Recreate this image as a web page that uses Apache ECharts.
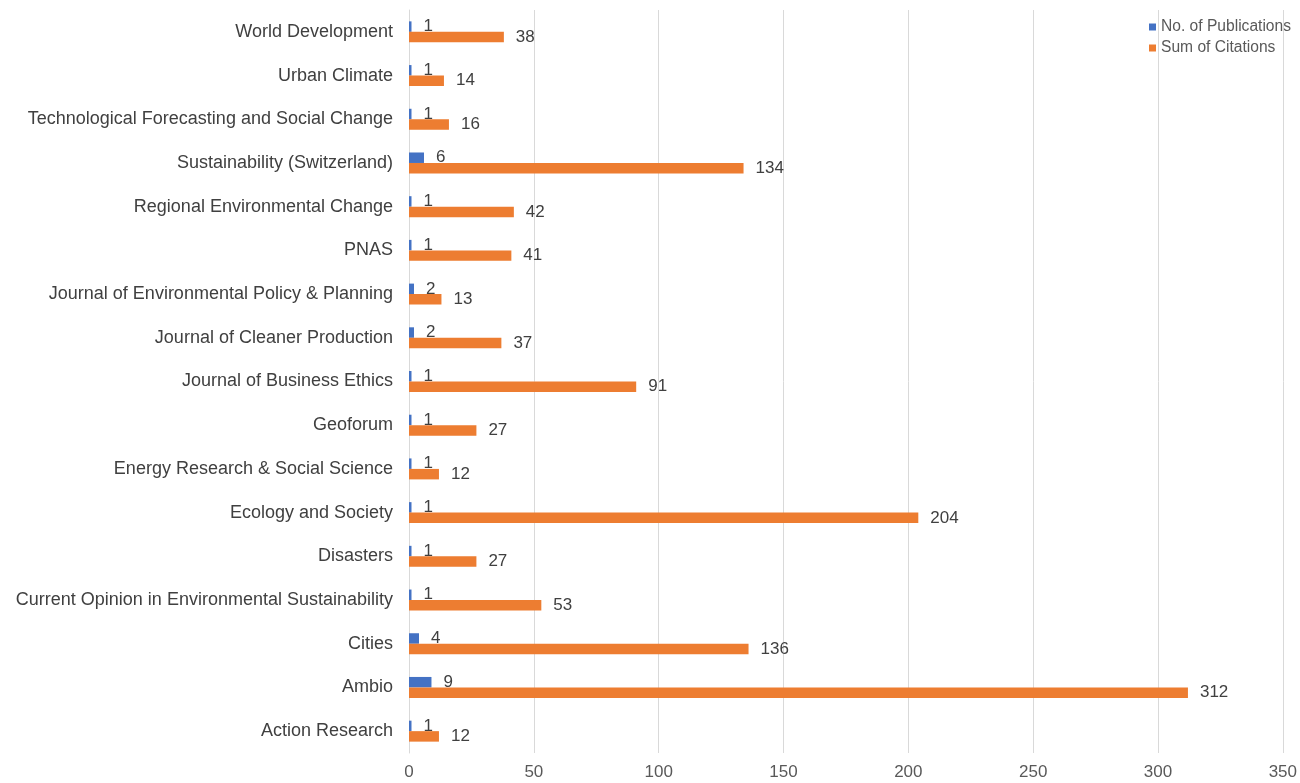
<!DOCTYPE html>
<html><head><meta charset="utf-8">
<script src="https://cdn.jsdelivr.net/npm/echarts@6/dist/echarts.min.js"></script>
<style>html,body{margin:0;padding:0;background:#fff}#c{width:1300px;height:783px}</style>
</head><body><div id="c"></div>
<script>
const categories = ["Action Research","Ambio","Cities","Current Opinion in Environmental Sustainability","Disasters","Ecology and Society","Energy Research & Social Science","Geoforum","Journal of Business Ethics","Journal of Cleaner Production","Journal of Environmental Policy & Planning","PNAS","Regional Environmental Change","Sustainability (Switzerland)","Technological Forecasting and Social Change","Urban Climate","World Development"];
const publications = [1,9,4,1,1,1,1,1,1,2,2,1,1,6,1,1,1];
const citations = [12,312,136,53,27,204,12,27,91,37,13,41,42,134,16,14,38];
const xTicks = {min:0, max:350, interval:50};

const chart = echarts.init(document.getElementById('c'));
const font = 'Liberation Sans, Arial, sans-serif';
chart.setOption({
  animation:false,
  textStyle:{fontFamily:font},
  legend:{
    orient:'vertical', right:4, top:14, itemWidth:7, itemHeight:7, itemGap:5, icon:'rect',
    textStyle:{fontSize:15.6, color:'#595959', fontFamily:font},
    data:['No. of Publications','Sum of Citations']
  },
  grid:{left:409, right:17, top:10, bottom:30, containLabel:false},
  xAxis:{type:'value', min:xTicks.min, max:xTicks.max, interval:xTicks.interval,
    axisLine:{show:false}, axisTick:{show:false},
    splitLine:{lineStyle:{color:'#d9d9d9', width:1}},
    axisLabel:{fontSize:17, color:'#595959', margin:11, fontFamily:font}},
  yAxis:{type:'category', data:categories,
    axisLine:{show:true, lineStyle:{color:'#d9d9d9'}}, axisTick:{show:false},
    axisLabel:{fontSize:18, color:'#404040', margin:16, fontFamily:font}},
  series:[
    {name:'No. of Publications', type:'bar', data:publications, barGap:'0%', barCategoryGap:'52%',
      itemStyle:{color:'#4472C4'},
      label:{show:true, position:'right', distance:12, fontSize:17, color:'#404040', fontFamily:font}},
    {name:'Sum of Citations', type:'bar', data:citations, barGap:'0%', barCategoryGap:'52%',
      itemStyle:{color:'#ED7D31'},
      label:{show:true, position:'right', distance:12, fontSize:17, color:'#404040', fontFamily:font}}
  ]
});
</script></body></html>
